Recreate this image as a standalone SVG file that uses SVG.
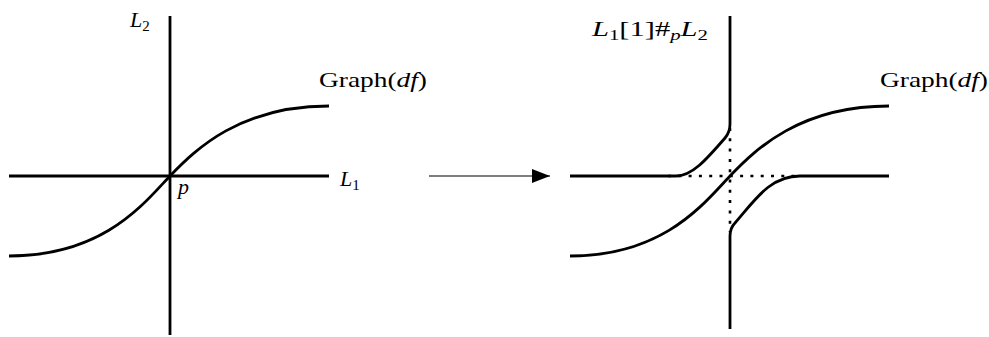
<svg xmlns="http://www.w3.org/2000/svg" width="989" height="337" viewBox="0 0 989 337">
<style>
.ln{fill:none;stroke:#000;stroke-width:2.8;stroke-linecap:butt;stroke-linejoin:round}
.dot{fill:none;stroke:#000;stroke-width:2.6;stroke-dasharray:3 7.3}
.t{font-family:"Liberation Serif","Times New Roman",serif;font-size:22px;fill:#000}
.i{font-style:italic}
</style>
<defs>
<marker id="ah" viewBox="0 0 18 14" refX="18" refY="7" markerWidth="18" markerHeight="14" markerUnits="userSpaceOnUse" orient="auto">
<path d="M0,0 L18,7 L0,14 Z" fill="#000"/>
</marker>
</defs>
<g id="left">
<line class="ln" x1="9" y1="176" x2="329" y2="176"/>
<line class="ln" x1="170" y1="16" x2="170" y2="335"/>
<path class="ln" d="M9,256 C105,256 145,202 170,176 C196,149 240,106 329,106"/>
<text class="t" x="130" y="27"><tspan class="i">L</tspan><tspan font-size="15" dy="4">2</tspan></text>
<text class="t" x="340" y="186"><tspan class="i">L</tspan><tspan font-size="15" dy="4">1</tspan></text>
<text class="t i" x="178" y="194">p</text>
<text class="t" x="319" y="87" textLength="108" lengthAdjust="spacingAndGlyphs">Graph(<tspan class="i">df</tspan>)</text>
</g>
<g id="connectors">
<line x1="429" y1="176" x2="550" y2="176" stroke="#000" stroke-width="1.2" marker-end="url(#ah)"/>
</g>
<g id="right">
<line class="dot" x1="668" y1="176" x2="802" y2="176"/>
<line class="dot" x1="730" y1="128" x2="730" y2="232"/>
<path class="ln" d="M570,256 C665,256 705,202 730,176 C756,149 800,106 889,106"/>
<path class="ln" d="M730,16 L730,124 Q730,132 725,138 C706,160 692,176 676,176 L570,176"/>
<path class="ln" d="M730,329 L730,236 Q730,228 735,223 C755,200 770,176 800,176 L889,176"/>
<text class="t" x="592" y="36" textLength="116" lengthAdjust="spacingAndGlyphs"><tspan class="i">L</tspan><tspan font-size="15" dy="4">1</tspan><tspan dy="-4">[1]#</tspan><tspan class="i" font-size="15" dy="4">p</tspan><tspan class="i" dy="-4">L</tspan><tspan font-size="15" dy="4">2</tspan></text>
<text class="t" x="880" y="87" textLength="108" lengthAdjust="spacingAndGlyphs">Graph(<tspan class="i">df</tspan>)</text>
</g>
</svg>
